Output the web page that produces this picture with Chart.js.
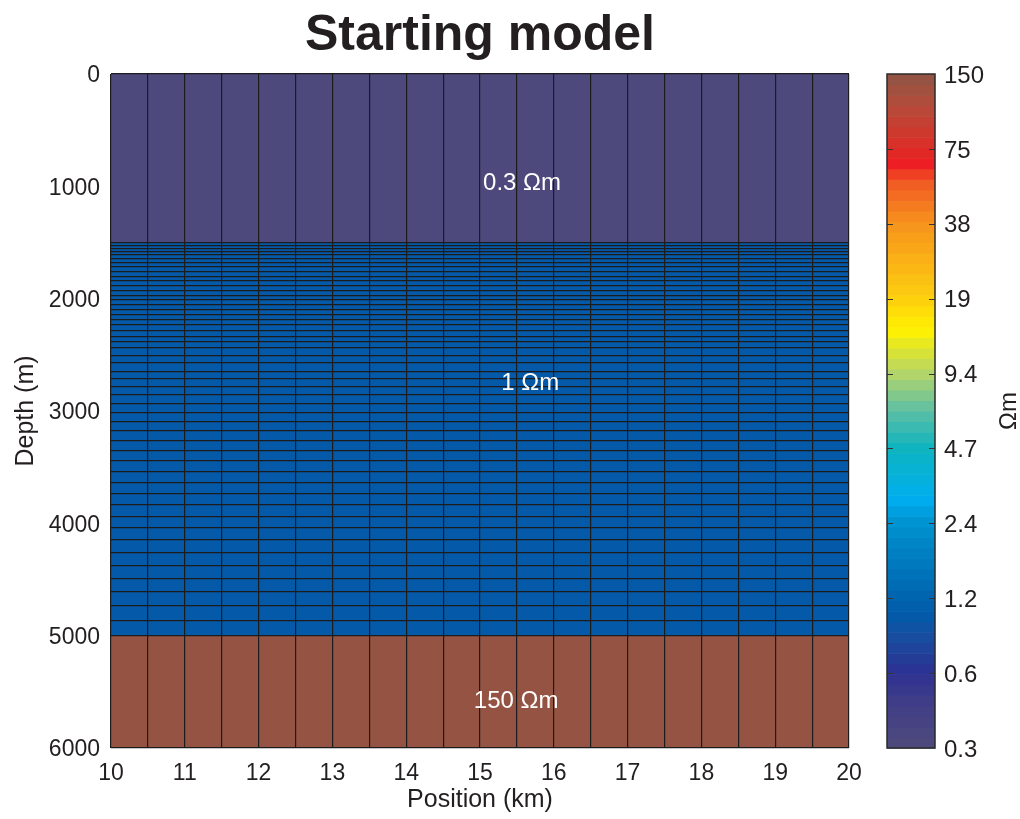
<!DOCTYPE html>
<html>
<head>
<meta charset="utf-8">
<script src="https://cdn.jsdelivr.net/npm/chart.js@4.4.1/dist/chart.umd.min.js"></script>
<style>
html, body { margin: 0; padding: 0; background: #fff; }
#wrap { position: relative; width: 1020px; height: 819px; }
#model { position: absolute; left: 0; top: 0; }
#cbar { position: absolute; left: 860px; top: 0; }
</style>
</head>
<body>
<div id="wrap">
  <canvas id="model" width="960" height="819"></canvas>
  <canvas id="cbar" width="160" height="819"></canvas>
</div>
<script>
// model grid
var columnEdges = [10, 10.5, 11, 11.5, 12, 12.5, 13, 13.5, 14, 14.5, 15, 15.5, 16, 16.5, 17, 17.5, 18, 18.5, 19, 19.5, 20];
var layerDepths = [0, 1500, 1527, 1555, 1584, 1612, 1644, 1678, 1718, 1760, 1800, 1843, 1887, 1929, 1970, 2012,
  2054, 2095, 2138, 2182, 2232, 2282, 2334, 2386, 2440, 2504, 2572, 2645, 2716, 2787, 2858, 2935, 3012, 3095,
  3178, 3262, 3350, 3444, 3539, 3636, 3734, 3830, 3936, 4036, 4148, 4260, 4378, 4495, 4612, 4736, 4866, 5000, 6000];

// resistivity zones (top depth, ohm-m)
var zoneTops = [0, 1500, 5000];
var zoneRho = [0.3, 1, 150];
var zoneText = ['0.3 Ωm', '1 Ωm', '150 Ωm'];
var zoneTextX = [15.57, 15.68, 15.49];
var zoneTextDepth = [970, 2755, 5585];

// axes
var positionTicks = [10, 11, 12, 13, 14, 15, 16, 17, 18, 19, 20];
var depthTicks = [0, 1000, 2000, 3000, 4000, 5000, 6000];
var cbTickValues = [0.29296875, 0.5859375, 1.171875, 2.34375, 4.6875, 9.375, 18.75, 37.5, 75, 150];
var cbTickLabels = ['0.3', '0.6', '1.2', '2.4', '4.7', '9.4', '19', '38', '75', '150'];

// colour map (fraction of log range -> colour)
var cmapStops = [
  [0.000, '#4f4a7a'], [0.060, '#433f86'], [0.111, '#2e3192'], [0.160, '#1a4a9e'], [0.197, '#035aa9'],
  [0.222, '#0063ae'], [0.333, '#0092d0'], [0.370, '#00aeef'], [0.444, '#0db4c0'], [0.500, '#5bbfa5'],
  [0.556, '#b3d46a'], [0.620, '#fff200'], [0.667, '#fdd00e'], [0.778, '#f7941d'], [0.840, '#f15a24'],
  [0.868, '#ed1c24'], [0.889, '#de2d26'], [0.950, '#b74a3a'], [1.000, '#8f5645']
];
var nSteps = 64;
var cbMin = cbTickValues[0], cbMax = cbTickValues[cbTickValues.length - 1];

Chart.defaults.font.family = '"Liberation Sans", Arial, sans-serif';
Chart.defaults.color = '#231f20';

function hexRgb(h) {
  return [parseInt(h.substr(1, 2), 16), parseInt(h.substr(3, 2), 16), parseInt(h.substr(5, 2), 16)];
}
function cmapColor(f) {
  for (var i = 1; i < cmapStops.length; i++) {
    if (f <= cmapStops[i][0]) {
      var a = cmapStops[i - 1], b = cmapStops[i];
      var t = (f - a[0]) / (b[0] - a[0]);
      var ca = hexRgb(a[1]), cb = hexRgb(b[1]);
      return 'rgb(' + [0, 1, 2].map(function (k) { return Math.round(ca[k] + (cb[k] - ca[k]) * t); }).join(',') + ')';
    }
  }
  return cmapStops[cmapStops.length - 1][1];
}
function rhoColor(v) {
  var f = Math.log(v / cbMin) / Math.log(cbMax / cbMin);
  var k = Math.max(0, Math.min(nSteps - 1, Math.floor(f * nSteps)));
  return cmapColor((k + 0.5) / nSteps);
}
function zoneOf(depth) {
  var z = 0;
  for (var i = 0; i < zoneTops.length; i++) if (depth >= zoneTops[i]) z = i;
  return z;
}

// one floating-bar dataset per layer, one bar per column
var centers = columnEdges.slice(1).map(function (e, i) { return (e + columnEdges[i]) / 2; });
var datasets = layerDepths.slice(0, -1).map(function (dTop, k) {
  var dBot = layerDepths[k + 1];
  return {
    data: centers.map(function (c) { return {x: c, y: [dTop, dBot]}; }),
    backgroundColor: rhoColor(zoneRho[zoneOf(dTop)]),
    borderWidth: 0,
    barPercentage: 1,
    categoryPercentage: 1,
    grouped: false
  };
});

var zoneLabels = {
  id: 'zoneLabels',
  afterDraw: function (chart) {
    var ctx = chart.ctx, xs = chart.scales.x, ys = chart.scales.y;
    ctx.save();
    ctx.fillStyle = '#ffffff';
    ctx.font = '24px "Liberation Sans", Arial, sans-serif';
    ctx.textAlign = 'center';
    ctx.textBaseline = 'middle';
    zoneText.forEach(function (t, i) {
      ctx.fillText(t, xs.getPixelForValue(zoneTextX[i]), ys.getPixelForValue(zoneTextDepth[i]));
    });
    ctx.restore();
  }
};

function plain(v) { return String(v); }

new Chart(document.getElementById('model'), {
  type: 'bar',
  data: { datasets: datasets },
  plugins: [zoneLabels],
  options: {
    responsive: false,
    animation: false,
    layout: { padding: 0 },
    plugins: {
      legend: { display: false },
      tooltip: { enabled: false },
      title: {
        display: true,
        text: 'Starting model',
        font: { size: 50, weight: 'bold' },
        color: '#231f20',
        padding: { top: 6, bottom: 8 }
      }
    },
    scales: {
      x: {
        type: 'linear', min: 10, max: 20, offset: false,
        grid: { display: false, offset: false, drawTicks: false },
        border: { display: false },
        afterBuildTicks: function (s) { s.ticks = positionTicks.map(function (v) { return {value: v}; }); },
        ticks: { font: { size: 23 }, padding: 12, maxRotation: 0, callback: plain },
        title: { display: true, text: 'Position (km)', font: { size: 25 }, padding: { top: 4, bottom: 4 } },
        afterFit: function (s) { s.height = 71; }
      },
      y: {
        type: 'linear', reverse: true, min: 0, max: 6000,
        grid: { display: false, drawTicks: false },
        border: { display: false },
        afterBuildTicks: function (s) { s.ticks = depthTicks.map(function (v) { return {value: v}; }); },
        ticks: { font: { size: 23 }, padding: 11, labelOffset: 2, callback: plain },
        title: { display: true, text: 'Depth (m)', font: { size: 25 }, padding: { top: 11, bottom: 11 } },
        afterFit: function (s) { s.width = 111; }
      },
      xEdges: {
        type: 'linear', axis: 'x', position: 'top', display: true, min: 10, max: 20, offset: false,
        afterBuildTicks: function (s) { s.ticks = columnEdges.map(function (v) { return {value: v}; }); },
        ticks: { display: false },
        grid: { z: 1, color: '#1c1c1c', lineWidth: 1.2, drawTicks: false, offset: false },
        border: { display: false },
        afterFit: function (s) { s.height = 0; }
      },
      yEdges: {
        type: 'linear', axis: 'y', position: 'right', display: true, reverse: true, min: 0, max: 6000,
        afterBuildTicks: function (s) { s.ticks = layerDepths.map(function (v) { return {value: v}; }); },
        ticks: { display: false },
        grid: { z: 1, color: '#1c1c1c', lineWidth: 1.2, drawTicks: false },
        border: { display: false },
        afterFit: function (s) { s.width = 111; }
      }
    }
  }
});

// colour bar
var colorBar = {
  id: 'colorBar',
  beforeDatasetsDraw: function (chart) {
    var ctx = chart.ctx, a = chart.chartArea, ys = chart.scales.y;
    var ratio = Math.pow(cbMax / cbMin, 1 / nSteps);
    ctx.save();
    for (var i = 0; i < nSteps; i++) {
      var y0 = ys.getPixelForValue(cbMin * Math.pow(ratio, i));
      var y1 = ys.getPixelForValue(cbMin * Math.pow(ratio, i + 1));
      ctx.fillStyle = cmapColor((i + 0.5) / nSteps);
      ctx.fillRect(a.left, y1, a.right - a.left, y0 - y1 + 0.6);
    }
    ctx.strokeStyle = '#333';
    ctx.lineWidth = 1.2;
    cbTickValues.forEach(function (v, i) {
      if (i === 0 || i === cbTickValues.length - 1) return;
      var y = Math.round(ys.getPixelForValue(v)) + 0.5;
      ctx.beginPath();
      ctx.moveTo(a.left, y); ctx.lineTo(a.left + 6, y);
      ctx.moveTo(a.right - 6, y); ctx.lineTo(a.right, y);
      ctx.stroke();
    });
    ctx.lineWidth = 1.5;
    ctx.strokeStyle = '#2a2a2a';
    ctx.strokeRect(a.left, a.top, a.right - a.left, a.bottom - a.top);
    ctx.fillStyle = '#231f20';
    ctx.font = '24px "Liberation Sans", Arial, sans-serif';
    ctx.textAlign = 'center';
    ctx.textBaseline = 'middle';
    ctx.translate(149, (a.top + a.bottom) / 2);
    ctx.rotate(-Math.PI / 2);
    ctx.fillText('Ωm', 0, 0);
    ctx.restore();
  }
};

new Chart(document.getElementById('cbar'), {
  type: 'scatter',
  data: { datasets: [] },
  plugins: [colorBar],
  options: {
    responsive: false,
    animation: false,
    layout: { padding: { left: 27, top: 74, bottom: 71, right: 0 } },
    plugins: { legend: { display: false }, tooltip: { enabled: false } },
    scales: {
      x: { display: false, min: 0, max: 1 },
      y: {
        type: 'logarithmic', position: 'right', display: true, min: cbMin, max: cbMax,
        grid: { display: false, drawTicks: false },
        border: { display: false },
        afterBuildTicks: function (s) { s.ticks = cbTickValues.map(function (v) { return {value: v}; }); },
        ticks: {
          font: { size: 24 }, padding: 9, labelOffset: 2,
          callback: function (v, i) { return cbTickLabels[i]; }
        },
        afterFit: function (s) { s.width = 85; }
      }
    }
  }
});
</script>
</body>
</html>
